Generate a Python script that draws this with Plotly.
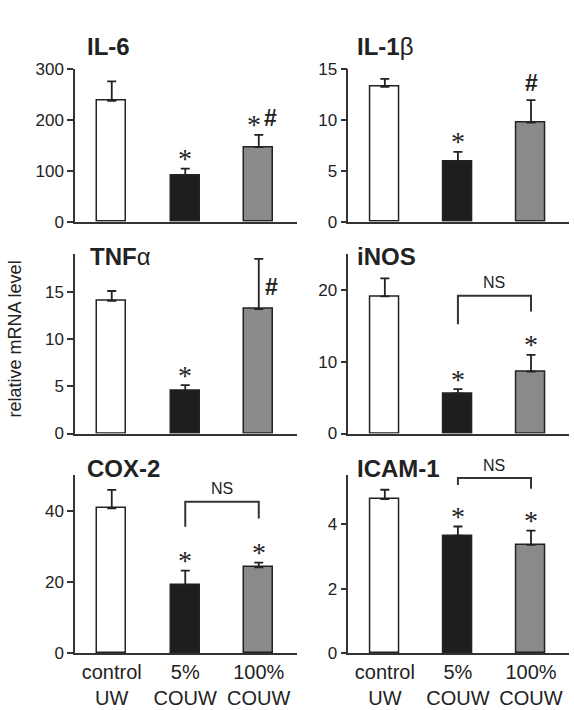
import plotly.graph_objects as go

# ---------------- data ----------------
groups = ["control<br>UW", "5%<br>COUW", "100%<br>COUW"]
xpos = [0, 1, 2]

il6 = [237, 90, 146]
il6_err = [38, 14, 24]
il1b = [13.2, 5.94, 9.72]
il1b_err = [0.8, 0.9, 2.2]
tnfa = [14.04, 4.52, 13.16]
tnfa_err = [1.03, 0.6, 5.3]
inos = [19.07, 5.58, 8.6]
inos_err = [2.5, 0.6, 2.35]
cox2 = [40.65, 19.2, 24.1]
cox2_err = [5.15, 4.0, 1.3]
icam1 = [4.78, 3.65, 3.36]
icam1_err = [0.29, 0.28, 0.44]

W, H = 574, 710
OFF, SC = 8.0, 0.972  # observed page offset / vertical scale of the capture
FONT = "Liberation Sans, Arial, sans-serif"
INK = "#222222"
bar_colors = ["#ffffff", "#1e1e1e", "#8a8a8a"]


def px(x):
    return x / W


def py(y):
    return 1 - ((y - OFF) / SC) / H


cols = {"L": (75, 297), "R": (348.3, 569)}
rows = {1: (67.5, 220.5), 2: (252.5, 432), 3: (473.3, 651.5)}

# (title html, left x, centre y)
titles = {
    "IL-6": ("<b>IL-6</b>", 85, 45),
    "IL-1b": ("<b>IL-1</b>β", 355, 45),
    "TNFa": ("<b>TNF</b>α", 88, 255),
    "iNOS": ("<b>iNOS</b>", 355, 255),
    "COX-2": ("<b>COX-2</b>", 85, 467),
    "ICAM-1": ("<b>ICAM-1</b>", 355, 467),
}

panels = [
    ("IL-6", il6, il6_err, [0, 300], [0, 100, 200, 300], "L", 1, ""),
    ("IL-1b", il1b, il1b_err, [0, 15], [0, 5, 10, 15], "R", 1, "2"),
    ("TNFa", tnfa, tnfa_err, [0, 19], [0, 5, 10, 15], "L", 2, "3"),
    ("iNOS", inos, inos_err, [0, 25], [0, 10, 20], "R", 2, "4"),
    ("COX-2", cox2, cox2_err, [0, 50], [0, 20, 40], "L", 3, "5"),
    ("ICAM-1", icam1, icam1_err, [0, 5.53], [0, 2, 4], "R", 3, "6"),
]

fig = go.Figure()
layout = {}
annotations = []
shapes = []

for name, vals, errs, yr, yt, col, row, sfx in panels:
    xa = "x" + sfx
    ya = "y" + sfx
    fig.add_trace(go.Bar(
        x=xpos, y=vals, width=0.4,
        xaxis=xa, yaxis=ya,
        marker=dict(color=bar_colors, line=dict(color=INK, width=1.5)),
        error_y=dict(type="data", symmetric=False, array=errs,
                     arrayminus=[0, 0, 0], color=INK, thickness=1.8, width=4.5),
        showlegend=False, hoverinfo="skip",
    ))
    c0, c1 = cols[col]
    r0, r1 = rows[row]
    layout["xaxis" + sfx] = dict(
        domain=[px(c0), px(c1)], range=[-0.5, 2.52], anchor=ya,
        showline=True, linecolor="#333333", linewidth=1.5,
        ticks="", showgrid=False, zeroline=False,
        tickvals=xpos, ticktext=groups,
        showticklabels=(row == 3),
        tickfont=dict(family=FONT, size=20, color=INK),
        fixedrange=True,
    )
    layout["yaxis" + sfx] = dict(
        domain=[py(r1), py(r0)], range=yr, anchor=xa,
        showline=True, linecolor="#333333", linewidth=1.5,
        ticks="outside", ticklen=6, tickwidth=1.5, tickcolor="#333333",
        tickvals=yt, showgrid=False, zeroline=False,
        tickfont=dict(family=FONT, size=17, color=INK),
        fixedrange=True,
    )
    t, tx, ty = titles[name]
    annotations.append(dict(
        text=t, xref="paper", yref="paper",
        x=px(tx), y=py(ty),
        xanchor="left", yanchor="middle", showarrow=False,
        font=dict(family=FONT, size=24, color=INK),
    ))


def mark(sfx, vals, errs, i, text, dx=0, dy=10, size=28, fam="Liberation Serif"):
    annotations.append(dict(
        text=text, xref="x" + sfx, yref="y" + sfx,
        x=xpos[i], y=vals[i] + errs[i], xshift=dx, yshift=dy,
        xanchor="center", yanchor="middle", showarrow=False,
        font=dict(family=fam, size=size, color=INK),
    ))


STAR = "*"
HASH = "<b>#</b>"
mark("", il6, il6_err, 1, STAR)
mark("", il6, il6_err, 2, STAR, dx=-5)
mark("", il6, il6_err, 2, HASH, dx=12, dy=17, size=23, fam=FONT)
mark("2", il1b, il1b_err, 1, STAR)
mark("2", il1b, il1b_err, 2, HASH, dy=17, size=23, fam=FONT)
mark("3", tnfa, tnfa_err, 1, STAR)
mark("3", tnfa, tnfa_err, 2, HASH, dx=13, dy=-28, size=23, fam=FONT)
mark("4", inos, inos_err, 1, STAR)
mark("4", inos, inos_err, 2, STAR)
mark("5", cox2, cox2_err, 1, STAR)
mark("5", cox2, cox2_err, 2, STAR)
mark("6", icam1, icam1_err, 1, STAR)
mark("6", icam1, icam1_err, 2, STAR)

brackets = [
    ("4", 19.17, 15.2, 16.97),
    ("5", 42.5, 35.5, 37.8),
    ("6", 5.43, 5.22, 5.10),
]
for sfx, ytop, yl, yr_ in brackets:
    xr, yrf = "x" + sfx, "y" + sfx
    shapes.append(dict(
        type="path", xref=xr, yref=yrf,
        path=f"M 1 {yl} L 1 {ytop} L 2 {ytop} L 2 {yr_}",
        line=dict(color="#333333", width=2),
    ))
    annotations.append(dict(
        text="NS", xref=xr, yref=yrf, x=1.5, y=ytop, yshift=13,
        xanchor="center", yanchor="middle", showarrow=False,
        font=dict(family=FONT, size=16, color=INK),
    ))

annotations.append(dict(
    text="relative mRNA level", xref="paper", yref="paper",
    x=px(15), y=py(338), textangle=-90,
    xanchor="center", yanchor="middle", showarrow=False,
    font=dict(family=FONT, size=18, color=INK),
))

fig.update_layout(
    width=W, height=H,
    margin=dict(l=0, r=0, t=0, b=0),
    paper_bgcolor="white", plot_bgcolor="white",
    bargap=0, annotations=annotations, shapes=shapes,
    **layout,
)

fig.write_html("out.html", config={"displayModeBar": False},
               post_script="document.body.style.margin='0px';")
